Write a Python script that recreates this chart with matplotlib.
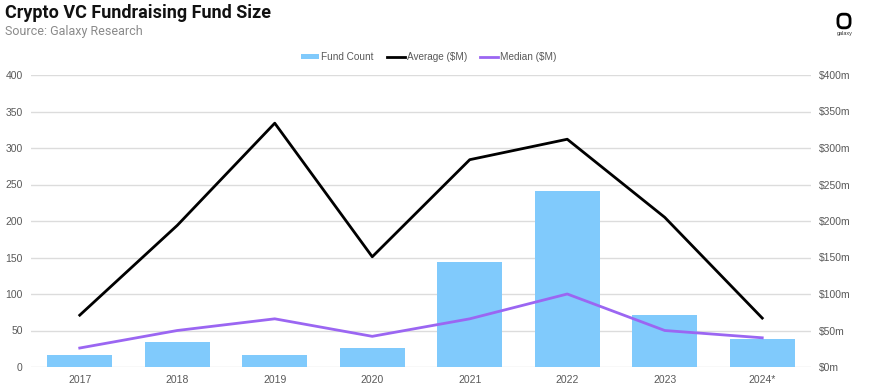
import matplotlib
matplotlib.use("Agg")
import matplotlib.pyplot as plt
from matplotlib.patches import FancyBboxPatch
from matplotlib.lines import Line2D
from matplotlib.patches import Patch
import numpy as np

years = ["2017", "2018", "2019", "2020", "2021", "2022", "2023", "2024*"]
fund_count = [16, 34, 16, 26, 144, 241, 71, 38]
average_m = [71, 194, 334, 151, 284, 312, 205, 67]
median_m = [26, 50, 66, 42, 66, 100, 50, 40]

left_ticks = [0, 50, 100, 150, 200, 250, 300, 350, 400]
right_labels = ["$0m", "$50m", "$100m", "$150m", "$200m", "$250m", "$300m", "$350m", "$400m"]

BAR = "#80cafc"
AVG = "#000000"
MED = "#9b66f2"
GRID = "#dcdcdc"
TXT = "#595959"

plt.rcParams['font.family'] = ['Liberation Sans', 'DejaVu Sans']

fig = plt.figure(figsize=(8.71, 3.84), dpi=100)
ax = fig.add_axes([31/871, 1-367/384, 780/871, 292/384])
x = np.arange(len(years))
ax.bar(x, fund_count, width=0.67, color=BAR, zorder=2)
ax.set_xlim(-0.5, len(years)-0.5)
ax.set_ylim(0, 400)
ax.set_yticks(left_ticks)
ax.set_xticks(x)
ax.set_xticklabels(years)
ax.grid(axis='y', color=GRID, linewidth=1, zorder=0)
for s in ax.spines.values():
    s.set_visible(False)
ax.tick_params(axis='both', length=0, labelsize=7.5, labelcolor=TXT)
ax.tick_params(axis='x', pad=6)
ax.tick_params(axis='y', pad=6)

ax2 = ax.twinx()
ax2.set_ylim(0, 400)
ax2.plot(x, average_m, color=AVG, linewidth=2, zorder=3)
ax2.plot(x, median_m, color=MED, linewidth=2, zorder=3)
ax2.set_yticks(left_ticks)
ax2.set_yticklabels(right_labels)
for s in ax2.spines.values():
    s.set_visible(False)
ax2.tick_params(axis='y', length=0, labelsize=7.5, labelcolor=TXT, pad=6)

fig.text(5/871, 1-13/384, "Crypto VC Fundraising Fund Size", fontsize=13, fontweight='bold',
         family=['Roboto', 'DejaVu Sans'], va='center', ha='left', color='#111111')
fig.text(5/871, 1-31/384, "Source: Galaxy Research", fontsize=9, family=['Roboto', 'DejaVu Sans'],
         va='center', ha='left', color='#8a8a8a')

handles = [Patch(facecolor=BAR, edgecolor='none'),
           Line2D([0], [0], color=AVG, linewidth=2),
           Line2D([0], [0], color=MED, linewidth=2)]
leg = fig.legend(handles, ["Fund Count", "Average ($M)", "Median ($M)"], loc='center',
                 bbox_to_anchor=(429/871, 1-57/384), ncol=3, frameon=False, fontsize=7.2,
                 handlelength=1.8, handleheight=0.45, handletextpad=0.2, columnspacing=1.3)
for t in leg.get_texts():
    t.set_color(TXT)

# logo
lax = fig.add_axes([836/871, 1-30/384, 16/871, 18/384])
lax.set_xlim(0, 1); lax.set_ylim(0, 1)
lax.axis('off')
lax.add_patch(FancyBboxPatch((0.12, 0.12), 0.76, 0.76, boxstyle="round,pad=0,rounding_size=0.3",
                             facecolor='white', edgecolor='black', linewidth=2))
fig.text(845/871, 1-34/384, "galaxy", fontsize=4, ha='center', va='center', color='#333333')

fig.savefig("out.png", dpi=100)
